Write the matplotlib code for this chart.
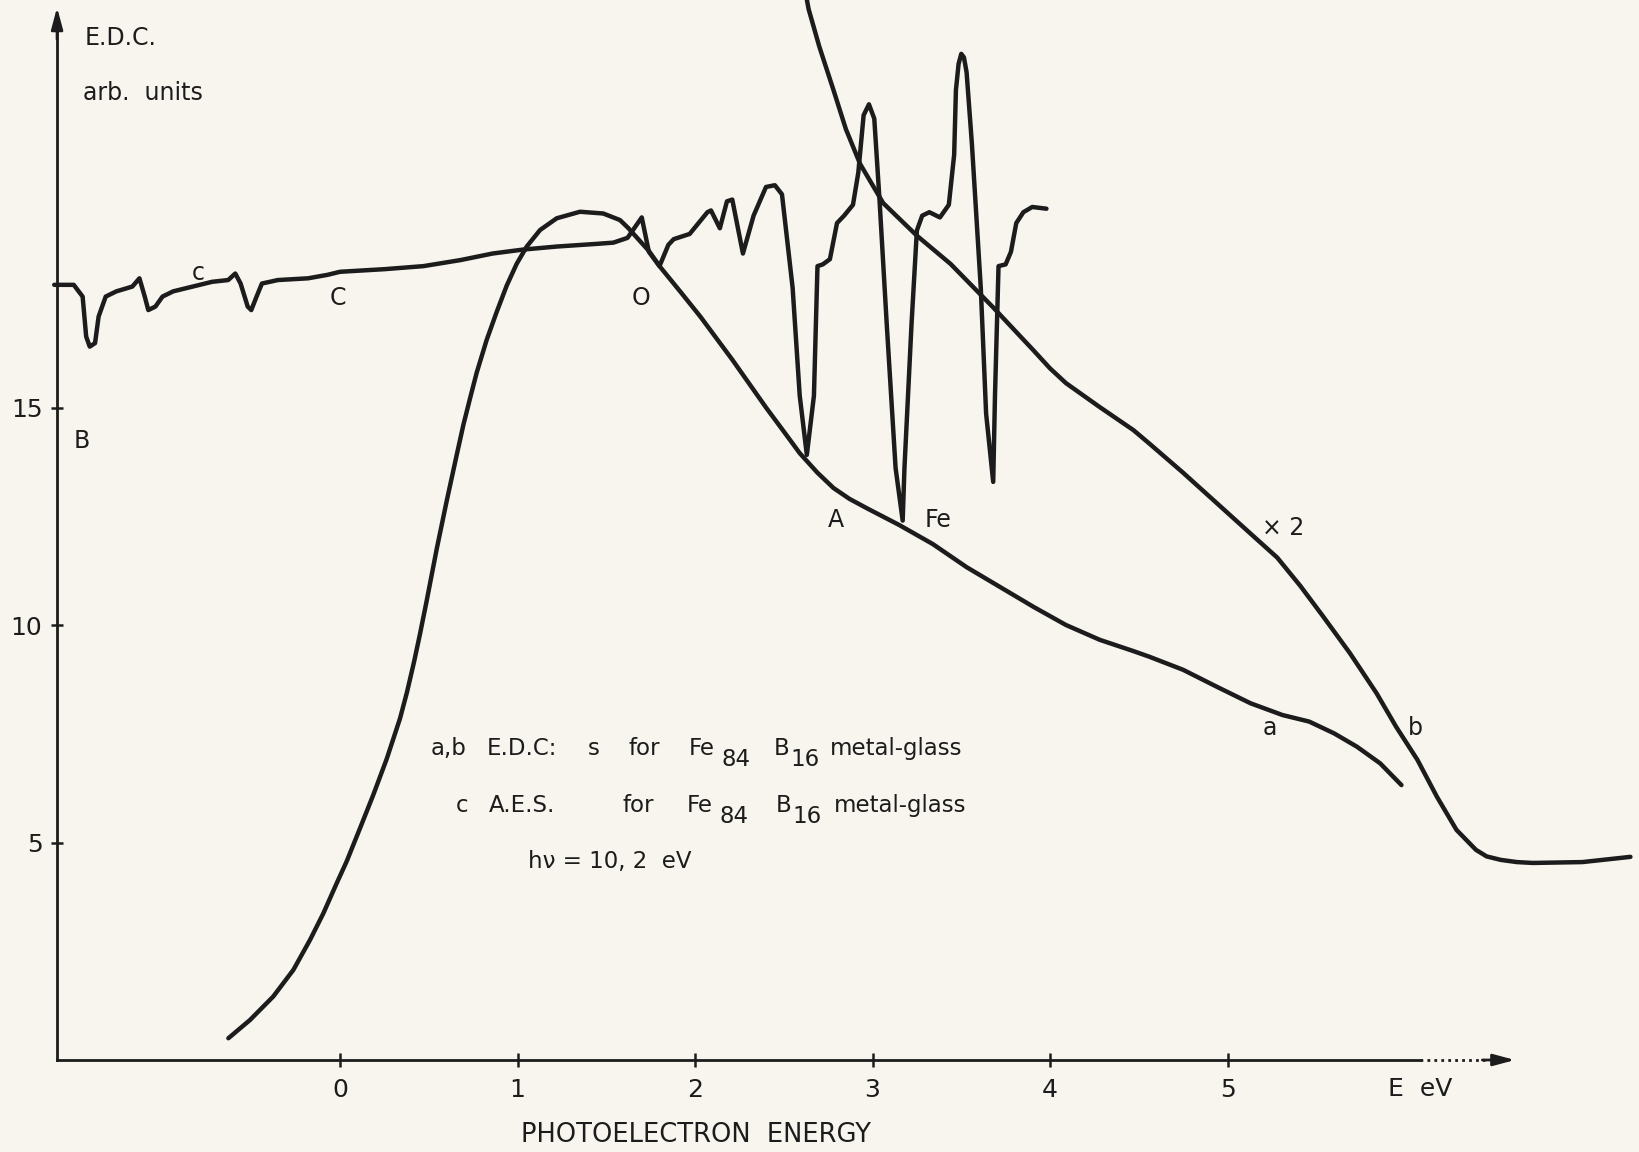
import matplotlib
matplotlib.use("Agg")
import matplotlib.pyplot as plt

# kurve a: E.D.C. for Fe84 B16 (energi i eV, intensitet i arb. units)
a_energi = [-0.629, -0.507, -0.376, -0.263, -0.169, -0.094, -0.019, 0.038, 0.113, 0.188,
            0.263, 0.338, 0.377, 0.417, 0.451, 0.488, 0.545, 0.601, 0.657, 0.695, 0.732,
            0.770, 0.826, 0.883, 0.939, 0.995, 1.052, 1.127, 1.221, 1.352, 1.483, 1.577,
            1.623, 1.74, 1.80, 1.92, 2.03, 2.21, 2.40, 2.50, 2.59, 2.69, 2.78, 2.87, 2.97,
            3.15, 3.34, 3.53, 3.72, 3.91, 4.09, 4.28, 4.47, 4.56, 4.75, 4.94, 5.13, 5.31,
            5.46, 5.60, 5.73, 5.86, 5.98]
a_edc = [0.50, 0.92, 1.46, 2.07, 2.76, 3.37, 4.06, 4.57, 5.33, 6.10,
         6.92, 7.85, 8.45, 9.15, 9.80, 10.55, 11.75, 12.85, 13.90, 14.60, 15.20,
         15.80, 16.55, 17.20, 17.80, 18.30, 18.70, 19.08, 19.35, 19.50, 19.46, 19.31,
         19.13, 18.60, 18.25, 17.65, 17.09, 16.10, 15.00, 14.45, 13.95, 13.50, 13.15, 12.90, 12.68,
         12.30, 11.86, 11.33, 10.87, 10.41, 10.00, 9.66, 9.40, 9.27, 8.97, 8.58, 8.20, 7.93,
         7.78, 7.51, 7.20, 6.82, 6.32]

# kurve b: E.D.C. forsterket x2
b_energi = [2.62, 2.64, 2.70, 2.78, 2.85, 2.93, 3.06, 3.25, 3.44, 3.68, 3.91, 4.00, 4.09, 4.28,
            4.47, 4.56, 4.75, 4.94, 5.13, 5.28, 5.41, 5.54, 5.69, 5.84, 5.95, 6.07, 6.18,
            6.29, 6.40, 6.46, 6.54, 6.63, 6.72, 7.00, 7.27]
b_edc = [24.6, 24.16, 23.30, 22.30, 21.40, 20.60, 19.70, 18.95, 18.30, 17.30, 16.30, 15.90, 15.56, 15.01,
         14.48, 14.17, 13.50, 12.80, 12.10, 11.55, 10.90, 10.19, 9.35, 8.43, 7.66, 6.90, 6.05,
         5.29, 4.83, 4.68, 4.60, 4.55, 4.53, 4.55, 4.67]

# kurve c: A.E.S. for Fe84 B16
c_energi = [-1.61, -1.50, -1.45, -1.43, -1.41, -1.38, -1.36, -1.32, -1.26, -1.17, -1.13, -1.10,
            -1.08, -1.04, -1.00, -0.94, -0.83, -0.72, -0.63, -0.59, -0.56, -0.52, -0.50, -0.47,
            -0.44, -0.35, -0.18, -0.07, 0.00, 0.25, 0.47, 0.68, 0.86, 1.03, 1.22, 1.44, 1.54,
            1.62, 1.70, 1.74, 1.80, 1.85, 1.88, 1.97, 2.07, 2.09, 2.14, 2.18, 2.21, 2.27, 2.33,
            2.40, 2.45, 2.49, 2.55, 2.59, 2.63, 2.67, 2.69, 2.72, 2.76, 2.80, 2.84, 2.89, 2.92,
            2.95, 2.98, 3.01, 3.04, 3.08, 3.13, 3.17, 3.18, 3.22, 3.25, 3.28, 3.32, 3.38, 3.43,
            3.46, 3.47, 3.485, 3.50, 3.515, 3.53, 3.56, 3.61, 3.64, 3.68, 3.69, 3.71, 3.75, 3.78,
            3.81, 3.85, 3.90, 3.98]
c_aes = [17.82, 17.82, 17.55, 16.63, 16.40, 16.48, 17.09, 17.55, 17.67, 17.78, 17.97, 17.55,
         17.24, 17.32, 17.55, 17.67, 17.78, 17.89, 17.93, 18.08, 17.85, 17.32, 17.24, 17.55,
         17.85, 17.93, 17.97, 18.05, 18.12, 18.18, 18.25, 18.39, 18.54, 18.63, 18.70, 18.76, 18.79,
         18.90, 19.37, 18.58, 18.25, 18.74, 18.87, 18.99, 19.49, 19.53, 19.12, 19.74, 19.78, 18.54, 19.41,
         20.07, 20.11, 19.90, 17.75, 15.27, 13.91, 15.27, 18.25, 18.29, 18.41, 19.24, 19.41, 19.66, 20.40,
         21.72, 21.97, 21.64, 19.74, 16.93, 13.61, 12.40, 13.61, 16.93, 19.07, 19.41, 19.49, 19.37, 19.66,
         20.81, 22.30, 22.90, 23.13, 23.05, 22.71, 21.06, 17.75, 14.86, 13.29, 15.27, 18.25, 18.29, 18.58,
         19.24, 19.49, 19.61, 19.57]

x_ticks = [0, 1, 2, 3, 4, 5]
y_ticks = [5, 10, 15]

LINJEFARGE = "#1c1c1c"
PAPIR = "#f7f5ee"
FONT = "DejaVu Sans"


def tegn_akser(ax):
    x0 = -1.594  # der y-aksen er tegnet
    ax.set_xlim(-1.9155, 7.3239)
    ax.set_ylim(-2.115, 24.368)

    for side in ["top", "right"]:
        ax.spines[side].set_visible(False)
    ax.spines["left"].set_position(("data", x0))
    ax.spines["bottom"].set_position(("data", 0))
    ax.spines["left"].set_bounds(0, 23.9)
    ax.spines["bottom"].set_bounds(x0, 6.085)
    for side in ["left", "bottom"]:
        ax.spines[side].set_linewidth(2.0)
        ax.spines[side].set_color(LINJEFARGE)

    ax.set_xticks(x_ticks)
    ax.set_xticklabels([str(t) for t in x_ticks])
    ax.set_yticks(y_ticks)
    ax.set_yticklabels([str(t) for t in y_ticks])
    ax.tick_params(axis="x", direction="inout", length=10, width=1.8, pad=8,
                   labelsize=18, colors=LINJEFARGE)
    ax.tick_params(axis="y", direction="inout", length=9, width=1.8, pad=6,
                   labelsize=18, colors=LINJEFARGE)

    # piler paa aksene
    ax.annotate("", xy=(x0, 24.26), xytext=(x0, 23.4),
                arrowprops=dict(arrowstyle="-|>,head_length=1.3,head_width=0.35",
                                color=LINJEFARGE, lw=2.0))
    ax.plot([6.085, 6.45], [0, 0], color=LINJEFARGE, lw=2.0, ls=(0, (1, 1.5)))
    ax.annotate("", xy=(6.635, 0), xytext=(6.42, 0),
                arrowprops=dict(arrowstyle="-|>,head_length=1.3,head_width=0.35",
                                color=LINJEFARGE, lw=2.0))

    ax.text(6.085, -0.40, "E  eV", fontsize=18, ha="center", va="top", color=LINJEFARGE)
    ax.text(2.006, -1.43, "PHOTOELECTRON  ENERGY", fontsize=18.5, ha="center", va="top",
            color=LINJEFARGE)
    ax.text(-1.437, 23.33, "E.D.C.", fontsize=17, va="baseline", color=LINJEFARGE)
    ax.text(-1.448, 22.07, "arb.  units", fontsize=17, va="baseline", color=LINJEFARGE)


def tegn_kurver(ax):
    stil = dict(color=LINJEFARGE, lw=3.2, solid_joinstyle="round", solid_capstyle="round")
    ax.plot(a_energi, a_edc, **stil)
    ax.plot(b_energi, b_edc, **stil)
    ax.plot(c_energi, c_aes, **stil)

    # bokstaver ved kurvene
    etiketter = [(-1.499, 14.07, "B"), (-0.834, 17.93, "c"), (-0.056, 17.36, "C"),
                 (1.645, 17.36, "O"), (2.749, 12.25, "A"), (3.296, 12.25, "Fe"),
                 (5.194, 12.07, "\u00d7 2"), (5.20, 7.47, "a"), (6.017, 7.47, "b")]
    for x, y, tekst in etiketter:
        ax.text(x, y, tekst, fontsize=17, va="baseline", color=LINJEFARGE)


def tegn_forklaring(ax):
    fs = 16.5
    # linje 1 og 2: (x, tekst, senket?)
    linje1 = [(0.513, "a,b", False), (0.828, "E.D.C:", False), (1.397, "s", False),
              (1.628, "for", False), (1.966, "Fe", False), (2.150, "84", True),
              (2.445, "B", False), (2.540, "16", True), (2.761, "metal-glass", False)]
    linje2 = [(0.654, "c", False), (0.839, "A.E.S.", False), (1.594, "for", False),
              (1.955, "Fe", False), (2.140, "84", True), (2.456, "B", False),
              (2.551, "16", True), (2.783, "metal-glass", False)]
    for grunnlinje, linje in [(7.01, linje1), (5.70, linje2)]:
        for x, tekst, senket in linje:
            y = grunnlinje - 0.26 if senket else grunnlinje
            ax.text(x, y, tekst, fontsize=fs, va="baseline", color=LINJEFARGE)
    ax.text(1.059, 4.41, "h\u03bd = 10, 2  eV", fontsize=fs, va="baseline", color=LINJEFARGE)


def main():
    plt.rcParams["font.family"] = [FONT]
    fig = plt.figure(figsize=(16.4, 11.52), dpi=100, facecolor=PAPIR)
    ax = fig.add_axes([0, 0, 1, 1])
    ax.set_facecolor(PAPIR)

    tegn_akser(ax)
    tegn_kurver(ax)
    tegn_forklaring(ax)

    fig.savefig("out.png", dpi=100, facecolor=PAPIR)


if __name__ == "__main__":
    main()
